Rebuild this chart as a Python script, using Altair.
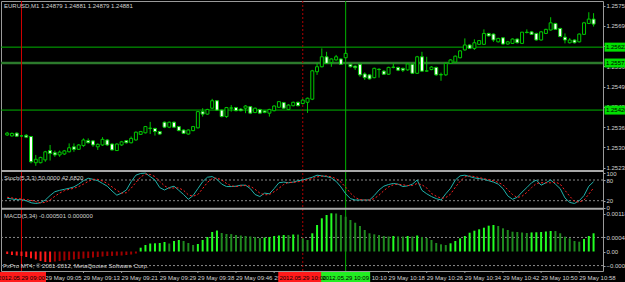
import altair as alt
import pandas as pd

FONT = "Liberation Sans"
GREEN = "#00c800"
TXT = "#d2d2d2"
GRAY = "#a0a0a0"

# ---------------- data (prices in points of 0.00001) ----------------
bar = list(range(124))
open_pts = [125340, 125337, 125346, 125337, 125339, 125335, 125251, 125251, 125260, 125290,
            125283, 125276, 125279, 125286, 125302, 125294, 125306, 125322, 125321, 125302,
            125308, 125324, 125311, 125290, 125308, 125322, 125315, 125324, 125342, 125347,
            125361, 125361, 125351, 125381, 125365, 125381, 125367, 125356, 125343, 125354,
            125363, 125415, 125407, 125426, 125450, 125420, 125399, 125426, 125428, 125423,
            125426, 125431, 125412, 125422, 125417, 125410, 125418, 125429, 125444, 125422,
            125434, 125445, 125441, 125445, 125455, 125543, 125559, 125591, 125573, 125581,
            125584, 125588, 125567, 125561, 125567, 125536, 125533, 125524, 125551, 125545,
            125535, 125558, 125557, 125554, 125549, 125567, 125538, 125591, 125545, 125550,
            125557, 125533, 125533, 125570, 125574, 125588, 125613, 125629, 125618, 125631,
            125631, 125666, 125664, 125639, 125652, 125632, 125634, 125648, 125634, 125670,
            125671, 125666, 125645, 125666, 125677, 125698, 125682, 125654, 125636, 125645,
            125639, 125663, 125698, 125712]
high_pts = [125350, 125348, 125348, 125340, 125343, 125337, 125276, 125270, 125289, 125308,
            125290, 125290, 125292, 125313, 125313, 125311, 125329, 125329, 125324, 125313,
            125333, 125327, 125313, 125313, 125321, 125324, 125335, 125351, 125353, 125369,
            125382, 125363, 125353, 125383, 125383, 125383, 125369, 125358, 125358, 125369,
            125417, 125426, 125424, 125456, 125452, 125422, 125430, 125436, 125430, 125426,
            125436, 125433, 125428, 125424, 125419, 125424, 125435, 125449, 125446, 125439,
            125447, 125447, 125456, 125460, 125549, 125571, 125618, 125607, 125586, 125597,
            125586, 125613, 125569, 125564, 125569, 125541, 125535, 125556, 125554, 125548,
            125559, 125570, 125559, 125556, 125570, 125569, 125594, 125607, 125591, 125561,
            125559, 125540, 125572, 125583, 125595, 125612, 125650, 125631, 125647, 125645,
            125679, 125668, 125666, 125652, 125654, 125642, 125650, 125650, 125671, 125679,
            125674, 125668, 125674, 125681, 125718, 125700, 125684, 125666, 125651, 125647,
            125666, 125703, 125734, 125731]
low_pts = [125337, 125335, 125334, 125334, 125330, 125249, 125241, 125249, 125254, 125258,
           125270, 125270, 125276, 125284, 125286, 125292, 125302, 125313, 125302, 125292,
           125305, 125305, 125290, 125289, 125305, 125313, 125313, 125322, 125340, 125345,
           125343, 125338, 125341, 125362, 125362, 125362, 125352, 125343, 125341, 125352,
           125361, 125399, 125405, 125423, 125418, 125397, 125395, 125415, 125416, 125416,
           125410, 125407, 125410, 125407, 125410, 125399, 125416, 125427, 125423, 125420,
           125432, 125432, 125438, 125411, 125452, 125533, 125557, 125568, 125559, 125579,
           125565, 125586, 125557, 125549, 125527, 125517, 125518, 125522, 125524, 125533,
           125533, 125554, 125545, 125542, 125546, 125536, 125536, 125543, 125543, 125548,
           125530, 125514, 125530, 125568, 125572, 125586, 125611, 125616, 125613, 125629,
           125629, 125656, 125639, 125637, 125630, 125630, 125632, 125634, 125632, 125666,
           125661, 125643, 125643, 125664, 125675, 125677, 125654, 125634, 125634, 125634,
           125637, 125661, 125696, 125688]
close_pts = [125346, 125345, 125336, 125337, 125333, 125254, 125262, 125268, 125286, 125281,
             125276, 125285, 125289, 125299, 125294, 125308, 125324, 125315, 125308, 125310,
             125326, 125308, 125292, 125311, 125318, 125315, 125329, 125349, 125351, 125367,
             125362, 125351, 125343, 125365, 125381, 125365, 125354, 125345, 125356, 125367,
             125415, 125407, 125422, 125450, 125420, 125399, 125428, 125427, 125418, 125418,
             125433, 125410, 125426, 125410, 125412, 125422, 125433, 125447, 125426, 125436,
             125445, 125434, 125452, 125458, 125546, 125559, 125591, 125570, 125584, 125591,
             125567, 125602, 125559, 125556, 125533, 125524, 125520, 125554, 125550, 125535,
             125557, 125557, 125548, 125548, 125568, 125538, 125591, 125545, 125546, 125558,
             125533, 125534, 125570, 125581, 125593, 125610, 125629, 125618, 125636, 125643,
             125666, 125658, 125645, 125650, 125632, 125639, 125648, 125636, 125670, 125669,
             125663, 125645, 125671, 125679, 125700, 125679, 125656, 125645, 125645, 125636,
             125664, 125700, 125712, 125696]

stoch_k = [27, 25, 23, 23, 20, 14, 12, 14, 22, 35, 46, 50, 53, 56, 60, 68, 78, 85, 82, 78,
           70, 62, 48, 36, 42, 51, 75, 94, 99, 100, 90, 80, 58, 51, 58, 62, 50, 38, 24, 35,
           55, 75, 88, 90, 82, 68, 61, 61, 62, 65, 65, 55, 38, 32, 42, 40, 55, 72, 74, 72,
           74, 78, 80, 84, 88, 94, 92, 90, 86, 76, 60, 40, 26, 22, 22, 22, 22, 35, 51, 62,
           67, 70, 68, 61, 63, 68, 80, 50, 40, 32, 26, 22, 40, 56, 80, 92, 94, 90, 86, 84,
           82, 78, 74, 68, 55, 34, 24, 30, 45, 58, 72, 80, 65, 72, 80, 68, 55, 28, 15, 12,
           20, 35, 62, 75]
stoch_d = [30, 28, 26, 25, 23, 21, 17, 14, 15, 22, 33, 42, 49, 53, 56, 61, 68, 76, 82, 82,
           77, 70, 60, 50, 42, 43, 56, 73, 89, 97, 96, 90, 76, 63, 56, 57, 57, 50, 37, 33,
           38, 55, 73, 84, 86, 80, 70, 63, 61, 63, 64, 62, 53, 42, 37, 38, 46, 56, 67, 73,
           73, 75, 77, 81, 84, 89, 91, 92, 89, 84, 74, 59, 42, 29, 23, 22, 22, 26, 36, 49,
           60, 66, 68, 66, 64, 64, 70, 66, 57, 41, 33, 27, 29, 39, 59, 76, 89, 92, 90, 87,
           84, 81, 78, 73, 66, 52, 38, 29, 33, 44, 58, 70, 72, 72, 72, 74, 68, 50, 33, 18,
           16, 22, 39, 57]
# MACD histogram in units of 0.000001
macd_hist = [-78, -110, -125, -141, -172, -213, -250, -297, -329, -332,
             -313, -297, -282, -266, -250, -235, -219, -203, -188, -172,
             -157, -141, -138, -131, -125, -110, -94, -63, 119, 203,
             250, 257, 266, 297, 250, 329, 360, 329, 266, 203,
             235, 360, 454, 610, 657, 579, 548, 545, 516, 501,
             485, 470, 454, 423, 438, 454, 485, 501, 516, 514,
             532, 530, 413, 360, 570, 829, 1039, 1142, 1196, 1190,
             1142, 1089, 986, 901, 798, 673, 570, 538, 516, 485,
             470, 485, 470, 468, 485, 470, 501, 454, 423, 360,
             266, 225, 203, 257, 329, 413, 485, 588, 651, 695,
             745, 808, 829, 798, 726, 673, 620, 610, 595, 579,
             597, 601, 610, 626, 642, 640, 570, 463, 413, 329,
             307, 391, 485, 570]

time_tick_bars = [8, 16, 24, 32, 40, 48, 56, 64, 72, 80, 88, 96, 104, 112, 120]
time_tick_labels = ["29 May 09:05", "29 May 09:13", "29 May 09:21", "29 May 09:29",
                    "29 May 09:38", "29 May 09:46", "29 May 09:54", "29 May 10:02",
                    "29 May 10:10", "29 May 10:18", "29 May 10:26", "29 May 10:34",
                    "29 May 10:42", "29 May 10:50", "29 May 10:58"]

price_ticks = [1.25755, 1.25690, 1.25625, 1.25560, 1.25495, 1.25430, 1.25365, 1.25300, 1.25235]
hline_thin = [1.25622, 1.25420]
hline_thick = [1.25571]
hline_labels = ["1.25622", "1.25571", "1.25420"]
hline_label_prices = [1.25622, 1.25571, 1.25420]

vline_bars = [3, 62, 71]
vline_labels = ["2012.05.29 09:00", "2012.05.29 10:00", "2012.05.29 10:09"]
vline_colors = ["#ff1a1a", "#ff1a1a", "#22ee22"]

stoch_levels = [20, 80]
stoch_ticks = [0, 20, 80, 100]
macd_levels = [0.00044, -0.00044]
macd_ticks = [0.00118, 0.00044, 0.0, -0.00044]

# ---------------- tables ----------------
candles = pd.DataFrame({
    "bar": bar,
    "open": [v / 1e5 for v in open_pts],
    "high": [v / 1e5 for v in high_pts],
    "low": [v / 1e5 for v in low_pts],
    "close": [v / 1e5 for v in close_pts],
})
candles["kind"] = ["bull" if c > o else "bear" for o, c in zip(open_pts, close_pts)]

stoch = pd.DataFrame({"bar": bar, "k": stoch_k, "d": stoch_d})

mv = [v / 1e6 for v in macd_hist]
state = []
for j, v in enumerate(mv):
    p = mv[j - 1] if j > 0 else v
    if v >= 0:
        state.append("up_pos" if v >= p else "dn_pos")
    else:
        state.append("dn_neg" if v <= p else "up_neg")
macd = pd.DataFrame({"bar": bar, "v": mv, "state": state})

times = pd.DataFrame({"bar": time_tick_bars, "label": time_tick_labels})

# ---------------- scales ----------------
XS = alt.Scale(domain=[-0.2475, 123.93], nice=False, zero=False)


def X(field="bar"):
    return alt.X(f"{field}:Q", scale=XS, axis=None)


def Ym(field, axis=None):
    return alt.Y(f"{field}:Q", scale=alt.Scale(domain=[1.252276, 1.257669], range=[169, 1],
                                               nice=False, zero=False), axis=axis)


def Ys(field, axis=None):
    return alt.Y(f"{field}:Q", scale=alt.Scale(domain=[0, 100], range=[206.6, 172.1],
                                               nice=False, zero=False), axis=axis)


def Yd(field, axis=None):
    return alt.Y(f"{field}:Q", scale=alt.Scale(domain=[-0.000610, 0.001299], range=[270, 209],
                                               nice=False, zero=False), axis=axis)


def right_axis(values, fmt=None, expr=None):
    kw = dict(orient="right", values=values, title=None, grid=False, domain=False,
              ticks=True, tickSize=2, tickColor=GRAY, labelFont=FONT, labelFontSize=6,
              labelColor=TXT, labelPadding=1, labelOverlap=False, labelFlush=False,
              labelBound=False)
    if fmt:
        kw["format"] = fmt
    if expr:
        kw["labelExpr"] = expr
    return alt.Axis(**kw)


# ---------------- layers ----------------
thin_df = pd.DataFrame({"p": hline_thin})
thick_df = pd.DataFrame({"p": hline_thick})
hthin = alt.Chart(thin_df).mark_rule(color="#00b400", strokeWidth=1).encode(
    x=alt.value(0), x2=alt.value(602), y=Ym("p"))
hthick = alt.Chart(thick_df).mark_rule(color="#2c7a2c", strokeWidth=2.5).encode(
    x=alt.value(0), x2=alt.value(602), y=Ym("p"))

vl = pd.DataFrame({"bar": vline_bars, "label": vline_labels, "col": vline_colors,
                   "kind": ["solid", "dot", "green"]})
v_red = alt.Chart(vl[vl.kind == "solid"]).mark_rule(color="#d40000", strokeWidth=1).encode(
    x=X(), y=alt.value(0), y2=alt.value(270))
v_dot = alt.Chart(vl[vl.kind == "dot"]).mark_rule(color="#b00000", strokeWidth=1,
                                                   strokeDash=[2, 2]).encode(
    x=X(), y=alt.value(0), y2=alt.value(270))
v_grn = alt.Chart(vl[vl.kind == "green"]).mark_rule(color="#00b400", strokeWidth=1).encode(
    x=X(), y=alt.value(0), y2=alt.value(270))

wicks = alt.Chart(candles).mark_rule(color=GREEN, strokeWidth=1).encode(
    x=X(), y=Ym("low", axis=right_axis(price_ticks, fmt=".5f")), y2="high:Q")
bodies = alt.Chart(candles).mark_bar(size=3, stroke=GREEN, strokeWidth=1).encode(
    x=X(), y=Ym("open"), y2="close:Q",
    fill=alt.Fill("kind:N", scale=alt.Scale(domain=["bull", "bear"],
                                           range=["#000000", "#ffffff"]), legend=None))

hl = pd.DataFrame({"p": hline_label_prices, "label": hline_labels})
hl_box = alt.Chart(hl).mark_rule(color="#00e000", strokeWidth=9).encode(
    x=alt.value(603.5), x2=alt.value(625), y=Ym("p"))
hl_txt = alt.Chart(hl).mark_text(align="left", baseline="middle", font=FONT, fontSize=6,
                                 color="#000000").encode(
    x=alt.value(605), y=Ym("p"), text="label:N")

sl = pd.DataFrame({"lvl": stoch_levels})
s_lvl = alt.Chart(sl).mark_rule(color="#8a8a8a", strokeWidth=1, strokeDash=[2, 2]).encode(
    x=alt.value(0), x2=alt.value(602), y=Ys("lvl"))
s_k = alt.Chart(stoch).mark_line(color="#20b2aa", strokeWidth=1).encode(
    x=X(), y=Ys("k", axis=right_axis(stoch_ticks, fmt="d")))
s_d = alt.Chart(stoch).mark_line(color="#ff2020", strokeWidth=1, strokeDash=[2, 2]).encode(
    x=X(), y=Ys("d"))

ml = pd.DataFrame({"lvl": macd_levels})
m_lvl = alt.Chart(ml).mark_rule(color="#8a8a8a", strokeWidth=1, strokeDash=[2, 2]).encode(
    x=alt.value(0), x2=alt.value(602), y=Yd("lvl"))
m_bar = alt.Chart(macd).mark_bar(size=2).encode(
    x=X(),
    y=Yd("v", axis=right_axis(macd_ticks,
                              expr="datum.value == 0 ? '0.00' : format(datum.value, '.5f')")),
    y2=alt.datum(0),
    color=alt.Color("state:N", scale=alt.Scale(domain=["up_pos", "dn_pos", "dn_neg", "up_neg"],
                                               range=["#22ff22", "#1f8a1f", "#ff1a1a", "#a00000"]),
                    legend=None))

sep = alt.Chart(pd.DataFrame({"s": [0]})).mark_rule(color="#a8a8a8", strokeWidth=2).encode(
    x=alt.value(0), x2=alt.value(602), y=alt.value(170))
sep2 = alt.Chart(pd.DataFrame({"s": [0]})).mark_rule(color="#a8a8a8", strokeWidth=2).encode(
    x=alt.value(0), x2=alt.value(602), y=alt.value(207.7))

# time labels along the bottom, left-aligned at their bar
t_ticks = alt.Chart(times).mark_rule(color=GRAY, strokeWidth=1).encode(
    x=X(), y=alt.value(270), y2=alt.value(272))
t_labels = alt.Chart(times).mark_text(align="left", baseline="middle", font=FONT, fontSize=6,
                                      color=TXT).encode(
    x=X(), y=alt.value(276.5), text="label:N")


def label(txt, x, y):
    return alt.Chart(pd.DataFrame({"t": [txt]})).mark_text(
        align="left", baseline="middle", font=FONT, fontSize=6, color=TXT).encode(
        x=alt.value(x), y=alt.value(y), text="t:N")


t_title = label("EURUSD,M1  1.24879 1.24881 1.24879 1.24881", 3, 5)
t_stoch = label("Stoch(5,3,3) 50.0000 42.6820", 3, 176.5)
t_macd = label("MACD(5,34) -0.000501 0.000000", 3, 214.7)
t_foot = label("FxPro MT4, © 2001-2012, MetaQuotes Software Corp.", 2, 265)

vbox = alt.Chart(vl).mark_tick(orient="horizontal", size=49, thickness=10, opacity=1).encode(
    x=X(), y=alt.value(276), color=alt.Color("col:N", scale=None))
vtxt = alt.Chart(vl).mark_text(align="center", baseline="middle", font=FONT, fontSize=6,
                               color="#000000").encode(
    x=X(), y=alt.value(276.5), text="label:N")

chart = alt.layer(
    hthin, hthick, s_lvl, m_lvl, v_red, v_dot, v_grn,
    wicks, bodies, s_k, s_d, m_bar, sep, sep2, t_ticks, t_labels,
    hl_box, hl_txt, t_title, t_stoch, t_macd, t_foot, vbox, vtxt
).resolve_scale(y="independent").properties(
    width=602, height=270,
    padding={"left": 1, "top": 1, "right": 22, "bottom": 11},
    autosize=alt.AutoSizeParams(type="none"),
    background="#000000",
).configure_view(stroke="#9a9a9a", strokeWidth=1, fill="#000000")

chart.save("out.html", embed_options={"renderer": "svg", "actions": False})
